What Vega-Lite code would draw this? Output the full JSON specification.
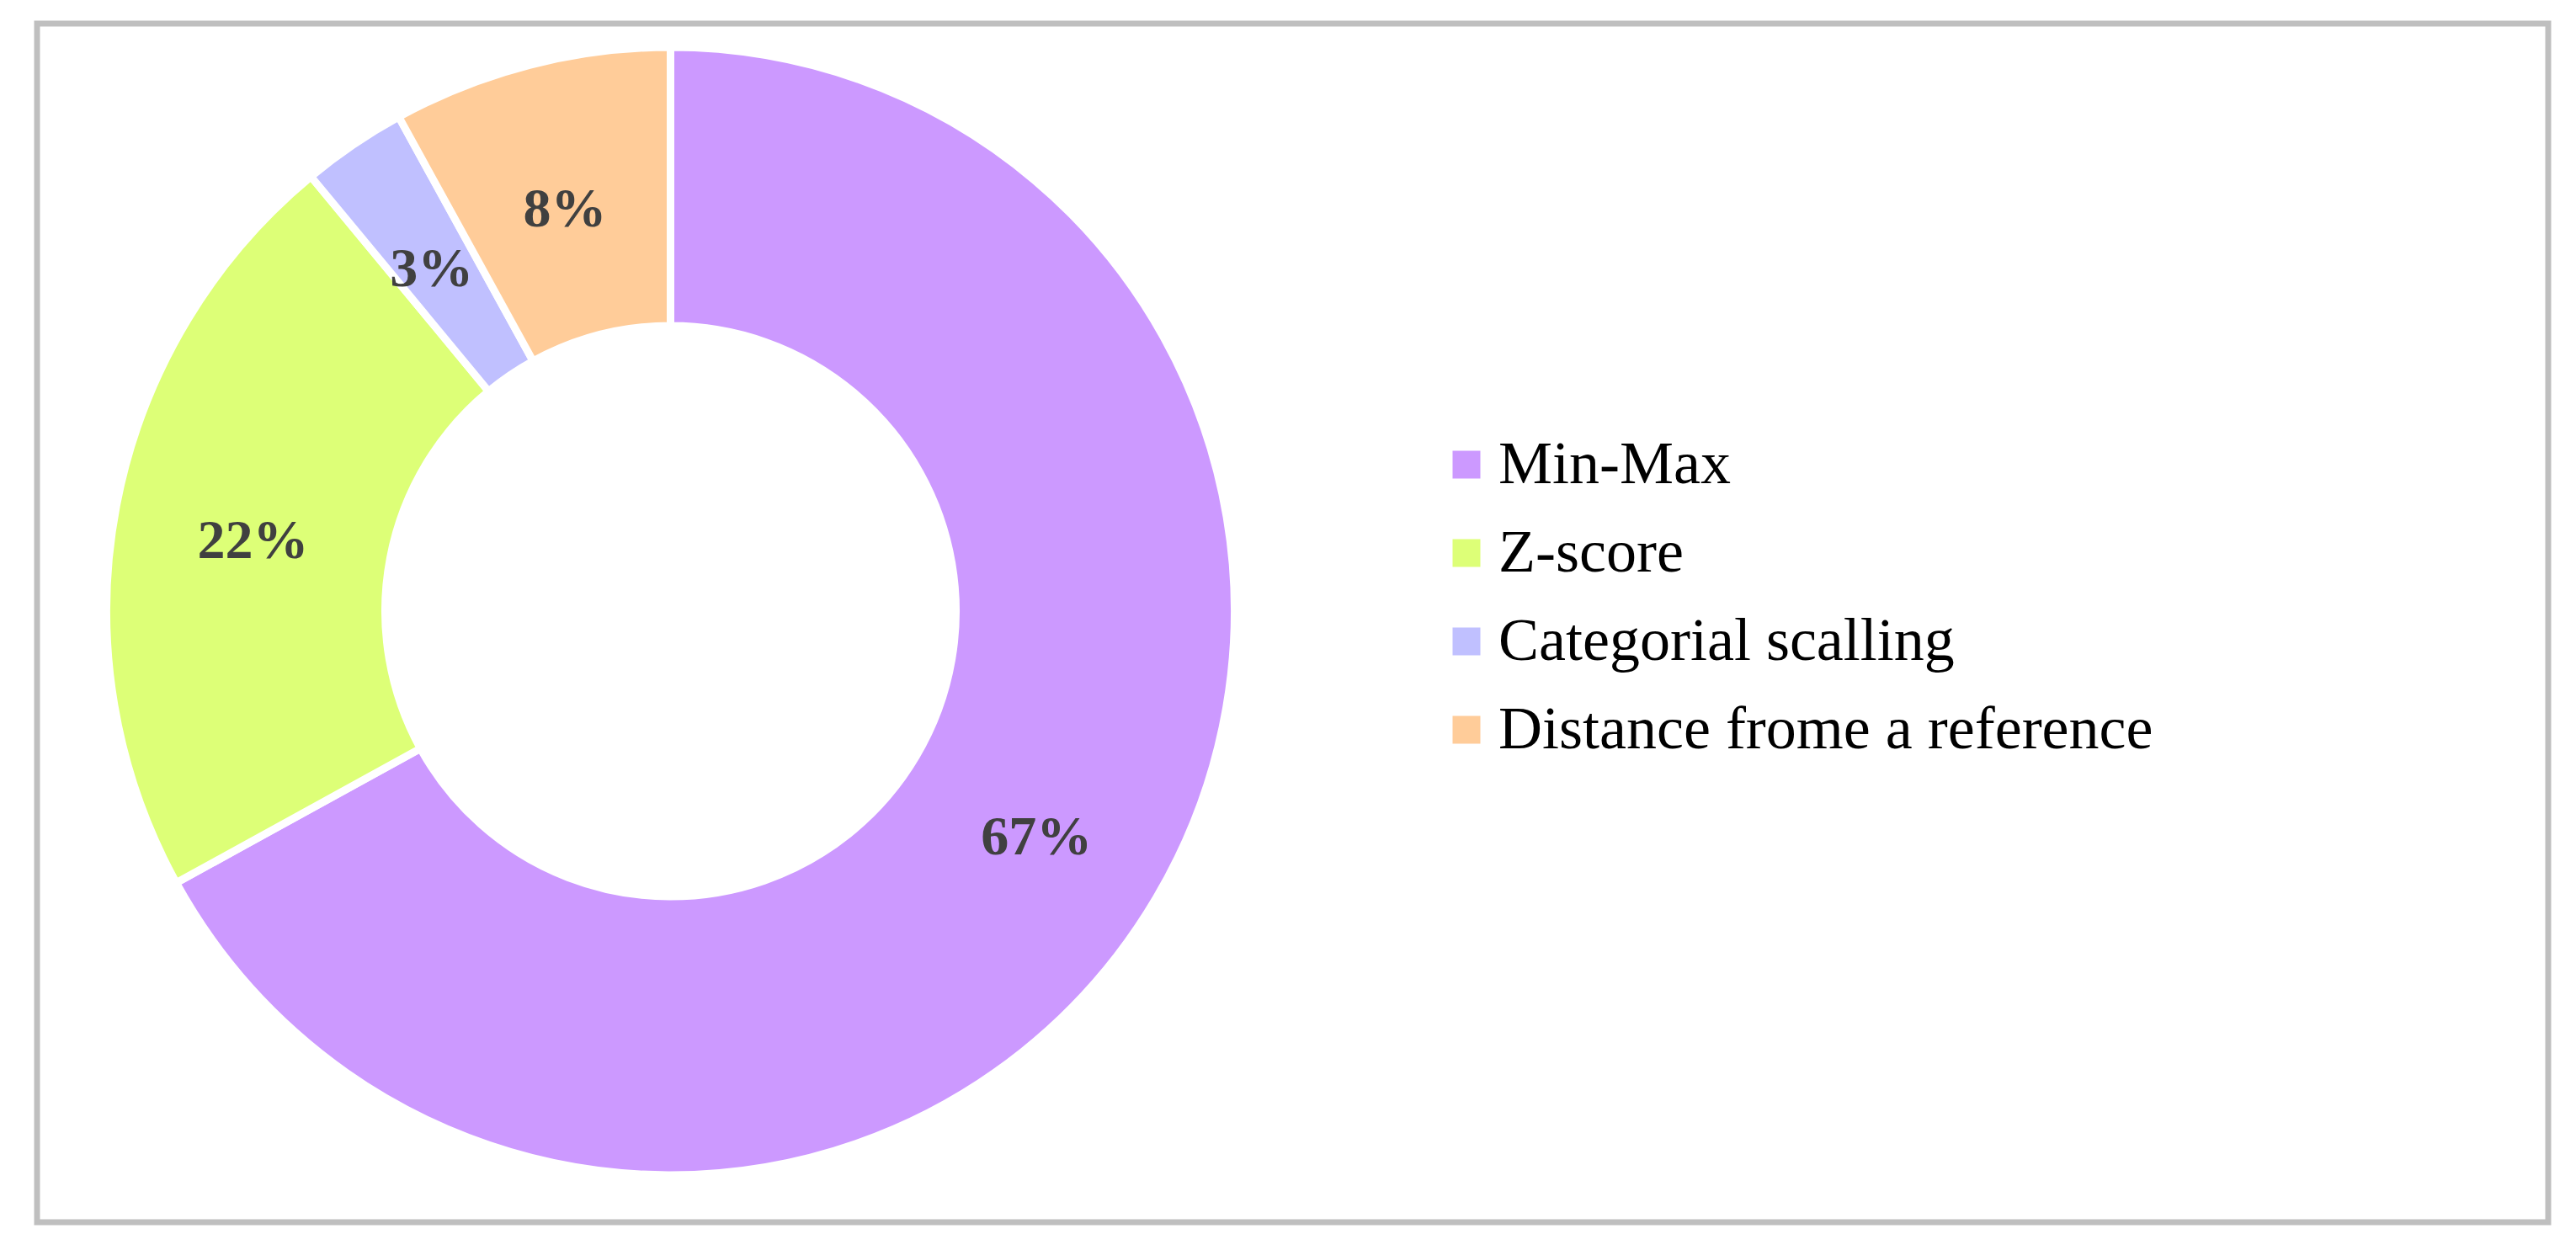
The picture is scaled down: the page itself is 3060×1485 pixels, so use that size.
{
  "$schema": "https://vega.github.io/schema/vega-lite/v6.json",
  "autosize": "none",
  "padding": {"left": 44, "top": 28, "right": 33, "bottom": 33},
  "width": 2983,
  "height": 1424,
  "background": "white",
  "view": {"stroke": "#BFBFBF", "strokeWidth": 7, "fill": "white"},
  "config": {
    "view": {"stroke": "#BFBFBF", "strokeWidth": 7},
    "font": "Liberation Serif"
  },
  "data": {
    "values": [
      {"method": "Min-Max", "value": 67, "order": 1, "label": "67%"},
      {"method": "Z-score", "value": 22, "order": 2, "label": "22%"},
      {"method": "Categorial scalling", "value": 3, "order": 3, "label": "3%"},
      {"method": "Distance frome a reference", "value": 8, "order": 4, "label": "8%"}
    ]
  },
  "encoding": {
    "theta": {"field": "value", "type": "quantitative", "stack": true},
    "order": {"field": "order", "type": "quantitative"}
  },
  "layer": [
    {
      "mark": {"type": "arc", "outerRadius": 670, "innerRadius": 339, "stroke": "white", "strokeWidth": 9, "x": 752.5, "y": 698},
      "encoding": {
        "color": {
          "field": "method",
          "type": "nominal",
          "sort": ["Min-Max", "Z-score", "Categorial scalling", "Distance frome a reference"],
          "scale": {
            "domain": ["Min-Max", "Z-score", "Categorial scalling", "Distance frome a reference"],
            "range": ["#CC99FF", "#DDFF77", "#C0C0FF", "#FFCC99"]
          },
          "legend": {
            "title": null,
            "orient": "none",
            "legendX": 1662,
            "legendY": 488,
            "padding": 0,
            "symbolType": "square",
            "symbolSize": 1089,
            "symbolStrokeWidth": 0,
            "labelFont": "Liberation Serif",
            "labelFontSize": 72,
            "labelColor": "#000000",
            "labelOffset": 2,
            "labelLimit": 0,
            "rowPadding": 33
          }
        }
      }
    },
    {
      "mark": {"type": "text", "radius": 505, "x": 752.5, "y": 698, "dy": 12, "font": "Liberation Serif", "fontSize": 66, "fontWeight": "bold", "color": "#404040", "align": "center", "baseline": "middle"},
      "encoding": {
        "text": {"field": "label", "type": "nominal"}
      }
    }
  ]
}
